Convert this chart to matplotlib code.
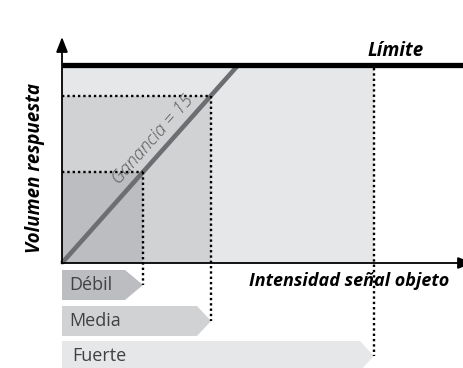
import matplotlib
matplotlib.use("Agg")
import matplotlib.pyplot as plt
from matplotlib.patches import Rectangle, Polygon
import numpy as np

# ---- data ----
categories = ["Débil", "Media", "Fuerte"]
signal = [1.0, 1.84, 3.85]          # intensidad señal objeto (unidades arbitrarias)
gain = 15                            # ganancia
limit = 32.6                         # volumen máximo (límite)
fills = ["#bcbdc0", "#d1d2d4", "#e6e7e8"]
axis_label_x = "Intensidad señal objeto"
axis_label_y = "Volumen respuesta"
limit_label = "Límite"
gain_label = "Ganancia = 15"

# ---- layout (pixel scale of the schematic) ----
W, H = 463, 368
x0_px, y0_px = 62, 263               # origin
px_per_x = 81.0
px_per_y = 91.0 / 15.0

fig = plt.figure(figsize=(W / 100, H / 100), dpi=100)
ax = fig.add_axes([0, 0, 1, 1])
ax.set_xlim(-x0_px / px_per_x, (W - x0_px) / px_per_x)
ax.set_ylim(-(H - y0_px) / px_per_y, y0_px / px_per_y)
ax.axis("off")

def dy(px):
    return px / px_per_y

def dx(px):
    return px / px_per_x

font = "Open Sans"
response = [min(gain * s, limit) for s in signal]

# filled regions (largest first)
for s, r, c in sorted(zip(signal, response, fills), key=lambda t: -t[0]):
    ax.add_patch(Rectangle((0, 0), s, r, facecolor=c, edgecolor="none", zorder=1))

# gain line
xs = np.array([0, limit / gain])
ax.plot(xs, gain * xs, color="#6d6e71", lw=3.3, solid_capstyle="butt", zorder=4)

# limit line
ax.plot([0, dx(W - x0_px)], [limit, limit], color="black", lw=3.8,
        solid_capstyle="butt", zorder=5)
ax.text(dx(424 - x0_px), limit + dy(4), limit_label, fontsize=13.5, family=font,
        style="italic", weight="bold", ha="right", va="bottom", zorder=6)

# label bands below the axis
band_tops = [7, 43, 78]      # px below axis
band_h = 30
shoulder = [18, 14, 14]
dot = (0, (1, 1.25))
for i, (cat, s, r, c) in enumerate(zip(categories, signal, response, fills)):
    top = -dy(band_tops[i])
    bot = -dy(band_tops[i] + band_h)
    mid = (top + bot) / 2
    poly = Polygon([(0, top), (s - dx(shoulder[i]), top), (s, mid),
                    (s - dx(shoulder[i]), bot), (0, bot)], closed=True,
                   facecolor=c, edgecolor="none", zorder=2)
    ax.add_patch(poly)
    ax.text(dx(7 if i < 2 else 10), mid, cat, fontsize=13, family=font,
            color="#414042", ha="left", va="center", zorder=3)
    # dotted guides
    ytop = r if gain * s <= limit else limit - dy(3)
    ax.plot([s, s], [ytop, mid], color="black", lw=1.7, linestyle=dot, zorder=6)
    if gain * s <= limit:
        ax.plot([0, s], [r, r], color="black", lw=1.7, linestyle=dot, zorder=6)

# axes with arrows
arrow = dict(arrowstyle="-|>,head_length=0.9,head_width=0.35",
             color="black", lw=1.3, shrinkA=0, shrinkB=0)
ax.annotate("", xy=(0, dy(263 - 37)), xytext=(0, -dy(0.5)),
            arrowprops=arrow, annotation_clip=False, zorder=7)
ax.annotate("", xy=(dx(W - x0_px + 10), 0), xytext=(-dx(0.5), 0),
            arrowprops=arrow, annotation_clip=False, zorder=7)

ax.text(dx(449 - x0_px), -dy(18), axis_label_x, fontsize=13, family=font,
        style="italic", weight="bold", ha="right", va="center", zorder=6)
ax.text(-dx(62 - 35), dy(263 - 168), axis_label_y, fontsize=13.5, family=font,
        style="italic", weight="bold", rotation=90, ha="center", va="center", zorder=6)

# gain annotation, rotated along the line
ang = np.degrees(np.arctan2(gain * px_per_y, px_per_x))
tx = dx(160 - x0_px)
ax.text(tx, gain * tx + dy(7), gain_label, fontsize=13, family=font,
        style="italic", weight="light", color="#58595b", rotation=ang,
        rotation_mode="anchor", ha="center", va="bottom", zorder=6)

fig.savefig("out.png", dpi=100)
